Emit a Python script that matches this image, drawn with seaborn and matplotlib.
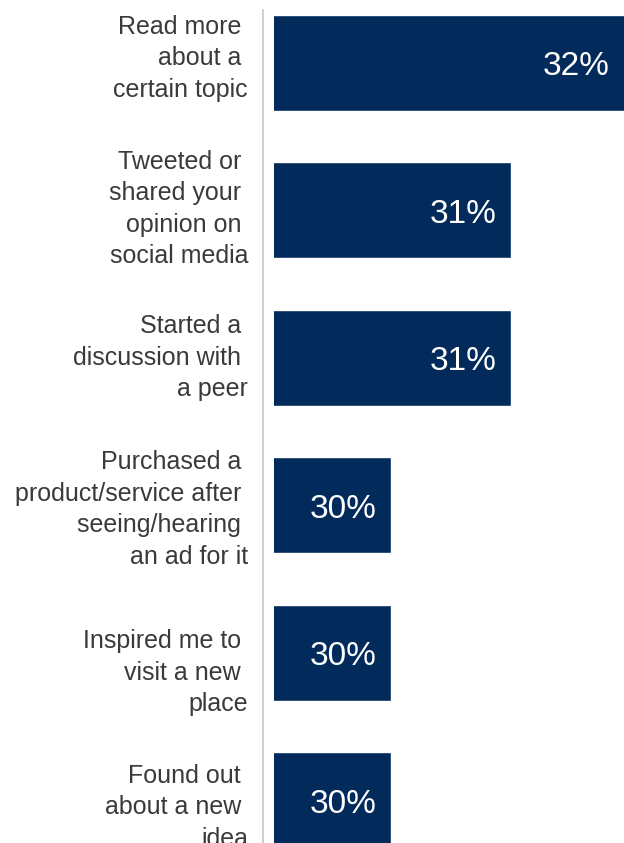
import matplotlib
matplotlib.use("Agg")
import matplotlib.pyplot as plt
import seaborn as sns
import pandas as pd

# Chart data
labels = [
    "Read more \nabout a \ncertain topic",
    "Tweeted or \nshared your \nopinion on \nsocial media",
    "Started a \ndiscussion with \na peer",
    "Purchased a \nproduct/service after \nseeing/hearing \nan ad for it",
    "Inspired me to \nvisit a new \nplace",
    "Found out \nabout a new \nidea",
]
values = [32, 31, 31, 30, 30, 30]
value_text = ["32%", "31%", "31%", "30%", "30%", "30%"]

# small vertical nudges (pixels) of the category labels, as in the original layout
label_nudge = [4.5, 1.5, 0, -4, -20, -7]

bar_color = "#022b5c"
text_color = "#3a3a3a"

sns.set_theme(style="white")
plt.rcParams["font.family"] = ["Liberation Sans", "DejaVu Sans"]

df = pd.DataFrame({"label": labels, "value": values})

fig = plt.figure(figsize=(6.24, 8.43), dpi=100)
ax = fig.add_axes([274 / 624, 0, 350 / 624, 1])

sns.barplot(data=df, x="value", y="label", color=bar_color, saturation=1,
            width=0.65, ax=ax, orient="h")

xmin, xmax = 29.025, 29.025 + 350 / 120
ax.set_xlim(xmin, xmax)
ax.set_ylim(5.29, -0.427)

for spine in ax.spines.values():
    spine.set_visible(False)
ax.set_xticks([])
ax.set_yticks([])
ax.set_xlabel("")
ax.set_ylabel("")

# category labels, right aligned left of the bars
for i, (lab, dy) in enumerate(zip(labels, label_nudge)):
    ax.annotate(lab, xy=(0, i), xycoords=("axes fraction", "data"),
                xytext=(-26, dy), textcoords="offset pixels",
                ha="right", va="center", multialignment="right",
                linespacing=1.4, fontsize=18, color=text_color,
                annotation_clip=False)

# value labels inside the bars
for i, (v, txt) in enumerate(zip(values, value_text)):
    ax.annotate(txt, xy=(min(v, xmax), i), xytext=(-14, -4),
                textcoords="offset pixels", ha="right", va="center",
                color="white", fontsize=24)

# thin gray separator line left of the bars
fig.add_artist(plt.Line2D([263 / 624, 263 / 624], [0, 1 - 10 / 843],
                          transform=fig.transFigure, color="#d0d0d0", lw=1.5))

fig.savefig("out.png", dpi=100)
